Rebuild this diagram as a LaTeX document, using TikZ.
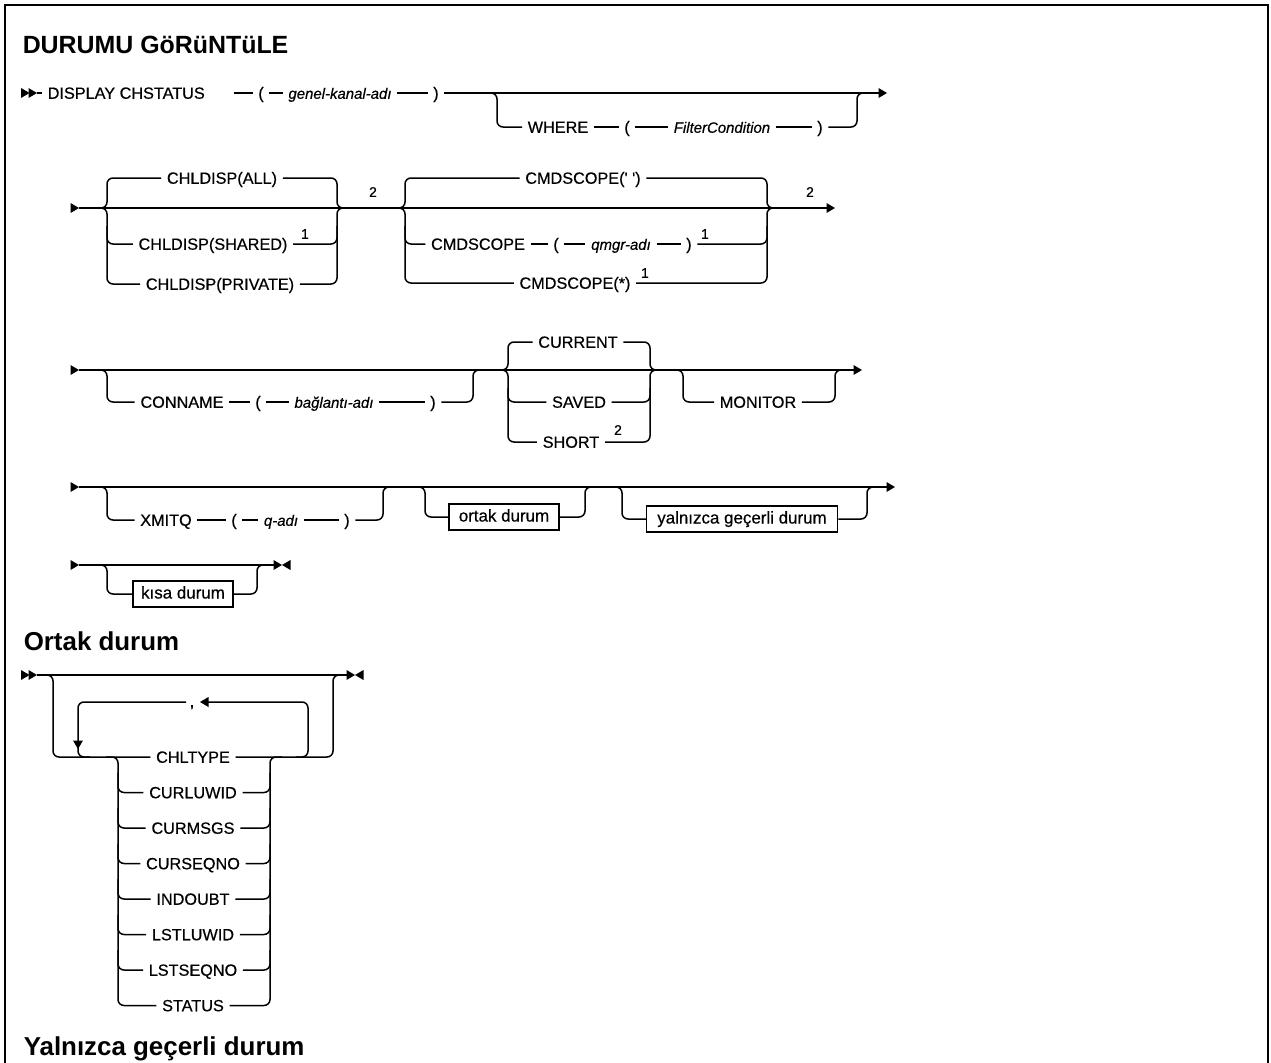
\documentclass[tikz,border=0pt]{standalone}
\usepackage{fontspec}
\setmainfont{Liberation Sans}
\newfontfamily\sdMed[FakeBold=0.5]{Liberation Sans}
\usetikzlibrary{positioning, arrows.meta, calc}

\newcommand{\sdKw}{\sdMed\fontsize{16.3}{18}\selectfont}
\newcommand{\sdVar}{\sdMed\fontsize{15}{18}\selectfont\itshape}
\newcommand{\sdBox}{\sdMed\fontsize{17}{18}\selectfont}
\newcommand{\sdHead}{\fontsize{26}{30}\selectfont\bfseries}
\newcommand{\sdSup}{\sdMed\fontsize{14}{16}\selectfont}

\tikzset{
  kw/.style={font=\sdKw, inner xsep=5bp, inner ysep=0pt, text height=11.5bp, text depth=0pt},
  var/.style={kw, font=\sdVar},
  sup/.style={font=\sdSup, inner sep=0pt},
  refbox/.style={draw, font=\sdBox, inner sep=0pt, minimum height=26bp, text height=12bp, text depth=3bp},
  rail/.style={rounded corners=6bp},
  head/.style={font=\sdHead, anchor=base west, inner sep=0pt},
  tipR/.pic={\fill (-8.5,-5) -- (0,0) -- (-8.5,5) -- cycle;},
  tipL/.pic={\fill (8.5,-5) -- (0,0) -- (8.5,5) -- cycle;},
  tipD/.pic={\fill (-5,-8.5) -- (0,0) -- (5,-8.5) -- cycle;},
}

\begin{document}
\begin{tikzpicture}[x=1bp, y=-1bp, line width=1.5bp]
\useasboundingbox (0,0) rectangle (1271,1063);
% frame
\draw[line width=2.2bp] (5,1070) -- (5,5) -- (1268,5) -- (1268,1070);

\node[head, font=\fontsize{25}{30}\selectfont\bfseries] (title) at (22,53) {DURUMU GöRüNTüLE};

% row 1
\pic at (29.5,93) {tipR};
\pic at (37,93) {tipR};
\coordinate (r1a) at (37,93);
\coordinate (r1b) at (879,93);
\node[kw, anchor=west] (disp) at (42,93) {DISPLAY CHSTATUS};
\node[kw] (lp1) at (261,93) {(};
\node[var] (chn) at (340,93) {genel-kanal-adı};
\node[kw] (rp1) at (436,93) {)};
\draw (r1a) -- (disp) (lp1) -- (chn) (chn) -- (rp1) (rp1) -- (r1b);
\draw[shorten <=23bp] (disp) -- (lp1);
\pic at (887,93) {tipR};
\node[kw] (wh) at (558,127) {WHERE};
\node[kw] (lp2) at (627,127) {(};
\node[var] (fc) at (722,127) {FilterCondition};
\node[kw] (rp2) at (820,127) {)};
\draw[rail] (wh.west) -| (497,93) -- (485,93);
\draw (wh) -- (lp2) (lp2) -- (fc) (fc) -- (rp2);
\draw[rail] (rp2.east) -| (857,93) -- (869,93);

% row 2
\pic at (79,208) {tipR};
\coordinate (r2a) at (79,208);
\coordinate (r2b) at (827,208);
\draw (r2a) -- (r2b);
\pic at (835,208) {tipR};
\node[kw] (all) at (222,178) {CHLDISP(ALL)};
\node[kw] (shr) at (213,244) {CHLDISP(SHARED)};
\node[sup] (n1a) at (305,234) {1};
\node[kw] (prv) at (220,284) {CHLDISP(PRIVATE)};
\draw[rail] (95,208) -| (107,178) -- (all.west);
\draw[rail] (95,208) -| (107,284) -- (prv.west);
\draw[rail] (107,226) |- (shr.west);
\draw[rail] (all.east) -| (337,208) -- (350,208);
\draw[rail] (prv.east) -| (337,208) -- (350,208);
\draw[rail] (shr.east) -| (337,226);
\node[sup] (n2a) at (373,192) {2};
\node[kw] (csb) at (583,178) {CMDSCOPE(\textquotesingle\ \textquotesingle)};
\node[kw] (csn) at (478,244) {CMDSCOPE};
\node[kw] (lp3) at (556,244) {(};
\node[var] (qm) at (621,244) {qmgr-adı};
\node[kw] (rp3) at (689,244) {)};
\node[sup] (n1b) at (705,234) {1};
\node[kw] (css) at (575,283) {CMDSCOPE(*)};
\node[sup] (n1c) at (645,273) {1};
\draw[rail] (392,208) -| (405,178) -- (csb.west);
\draw[rail] (392,208) -| (405,283) -- (css.west);
\draw[rail] (405,226) |- (csn.west);
\draw (csn) -- (lp3) (lp3) -- (qm) (qm) -- (rp3);
\draw[rail] (rp3.east) -| (767,226);
\draw[rail] (csb.east) -| (767,208) -- (780,208);
\draw[rail] (css.east) -| (767,208) -- (780,208);
\node[sup] (n2b) at (810,192) {2};

% row 3
\pic at (79,370) {tipR};
\coordinate (r3a) at (79,370);
\coordinate (r3b) at (854,370);
\draw (r3a) -- (r3b);
\pic at (862,370) {tipR};
\node[kw] (cn) at (182,402) {CONNAME};
\node[kw] (lp4) at (258,402) {(};
\node[var] (bag) at (334,402) {bağlantı-adı};
\node[kw] (rp4) at (433,402) {)};
\draw[rail] (cn.west) -| (107,370) -- (95,370);
\draw (cn) -- (lp4) (lp4) -- (bag) (bag) -- (rp4);
\draw[rail] (rp4.east) -| (473,370) -- (485,370);
\node[kw] (cur) at (578,342) {CURRENT};
\node[kw] (sav) at (579,402) {SAVED};
\node[kw] (sht) at (571,442) {SHORT};
\node[sup] (n2c) at (618,430) {2};
\draw[rail] (495,370) -| (508,342) -- (cur.west);
\draw[rail] (495,370) -| (508,442) -- (sht.west);
\draw[rail] (508,388) |- (sav.west);
\draw[rail] (cur.east) -| (650,370) -- (663,370);
\draw[rail] (sht.east) -| (650,370) -- (663,370);
\draw[rail] (sav.east) -| (650,388);
\node[kw] (mon) at (758,402) {MONITOR};
\draw[rail] (mon.west) -| (683,370) -- (670,370);
\draw[rail] (mon.east) -| (835,370) -- (848,370);

% row 4
\pic at (79,487) {tipR};
\coordinate (r4a) at (79,487);
\coordinate (r4b) at (887,487);
\draw (r4a) -- (r4b);
\pic at (895,487) {tipR};
\node[kw] (xq) at (166,520) {XMITQ};
\node[kw] (lp5) at (234,520) {(};
\node[var] (qa) at (281,520) {q-adı};
\node[kw] (rp5) at (347,520) {)};
\draw[rail] (xq.west) -| (107,487) -- (95,487);
\draw (xq) -- (lp5) (lp5) -- (qa) (qa) -- (rp5);
\draw[rail] (rp5.east) -| (383,487) -- (395,487);
\node[refbox, minimum width=110bp] (ortb) at (504,517) {ortak durum};
\draw[rail] (ortb.west) -| (425,487) -- (412,487);
\draw[rail] (ortb.east) -| (585,487) -- (598,487);
\node[refbox, minimum width=191bp] (yalb) at (742,519) {yalnızca geçerli durum};
\draw[rail] (yalb.west) -| (622,487) -- (609,487);
\draw[rail] (yalb.east) -| (867,487) -- (880,487);

% row 5
\pic at (79,565) {tipR};
\coordinate (r5a) at (79,565);
\coordinate (r5b) at (274,565);
\draw (r5a) -- (r5b);
\pic at (282,565) {tipR};
\pic at (282,565) {tipL};
\node[refbox, minimum width=100bp] (ksb) at (183,594) {kısa durum};
\draw[rail] (ksb.west) -| (107,565) -- (95,565);
\draw[rail] (ksb.east) -| (257,565) -- (269,565);

% ortak durum
\node[head] (h2) at (23,650) {Ortak durum};
\pic at (29.5,675) {tipR};
\pic at (37,675) {tipR};
\coordinate (o1a) at (37,675);
\coordinate (o1b) at (347,675);
\draw (o1a) -- (o1b);
\pic at (355,675) {tipR};
\pic at (355,675) {tipL};
\foreach \nm/\txt [count=\i from 0] in {chl/CHLTYPE, cul/CURLUWID, cms/CURMSGS, csq/CURSEQNO,
    ind/INDOUBT, llw/LSTLUWID, lsq/LSTSEQNO, sts/STATUS}
  \node[kw] (\nm) at (193,757+35.5*\i) {\txt};
\draw[rail] (45,675) -| (53,757) -- (chl.west);
\draw[rail] (chl.east) -| (333,675) -- (345,675);
% repeat loop
\node[kw, font=\sdMed\fontsize{17}{18}\selectfont, inner xsep=0pt, anchor=base] (cma) at (192,707) {,};
\draw[rail] (296,757) -| (308,702) -- (208,702);
\pic at (200,702) {tipL};
\draw[rail] (186,702) -| (78,757) -- (90,757);
\pic at (78,749) {tipD};
% choice stack
\draw[rail] (106,757) -| (118,1005.5) -- (sts.west);
\draw[rail] (sts.east) -| (270,757) -- (282,757);
\foreach \nm [count=\i] in {cul,cms,csq,ind,llw,lsq} {
  \pgfmathsetmacro{\yy}{757+35.5*\i}
  \draw[rail] (118,{\yy-20}) |- (\nm.west);
  \draw[rail] (\nm.east) -| (270,{\yy-20});
}

\node[head] (h3) at (23,1055) {Yalnızca geçerli durum};
\end{tikzpicture}
\end{document}
